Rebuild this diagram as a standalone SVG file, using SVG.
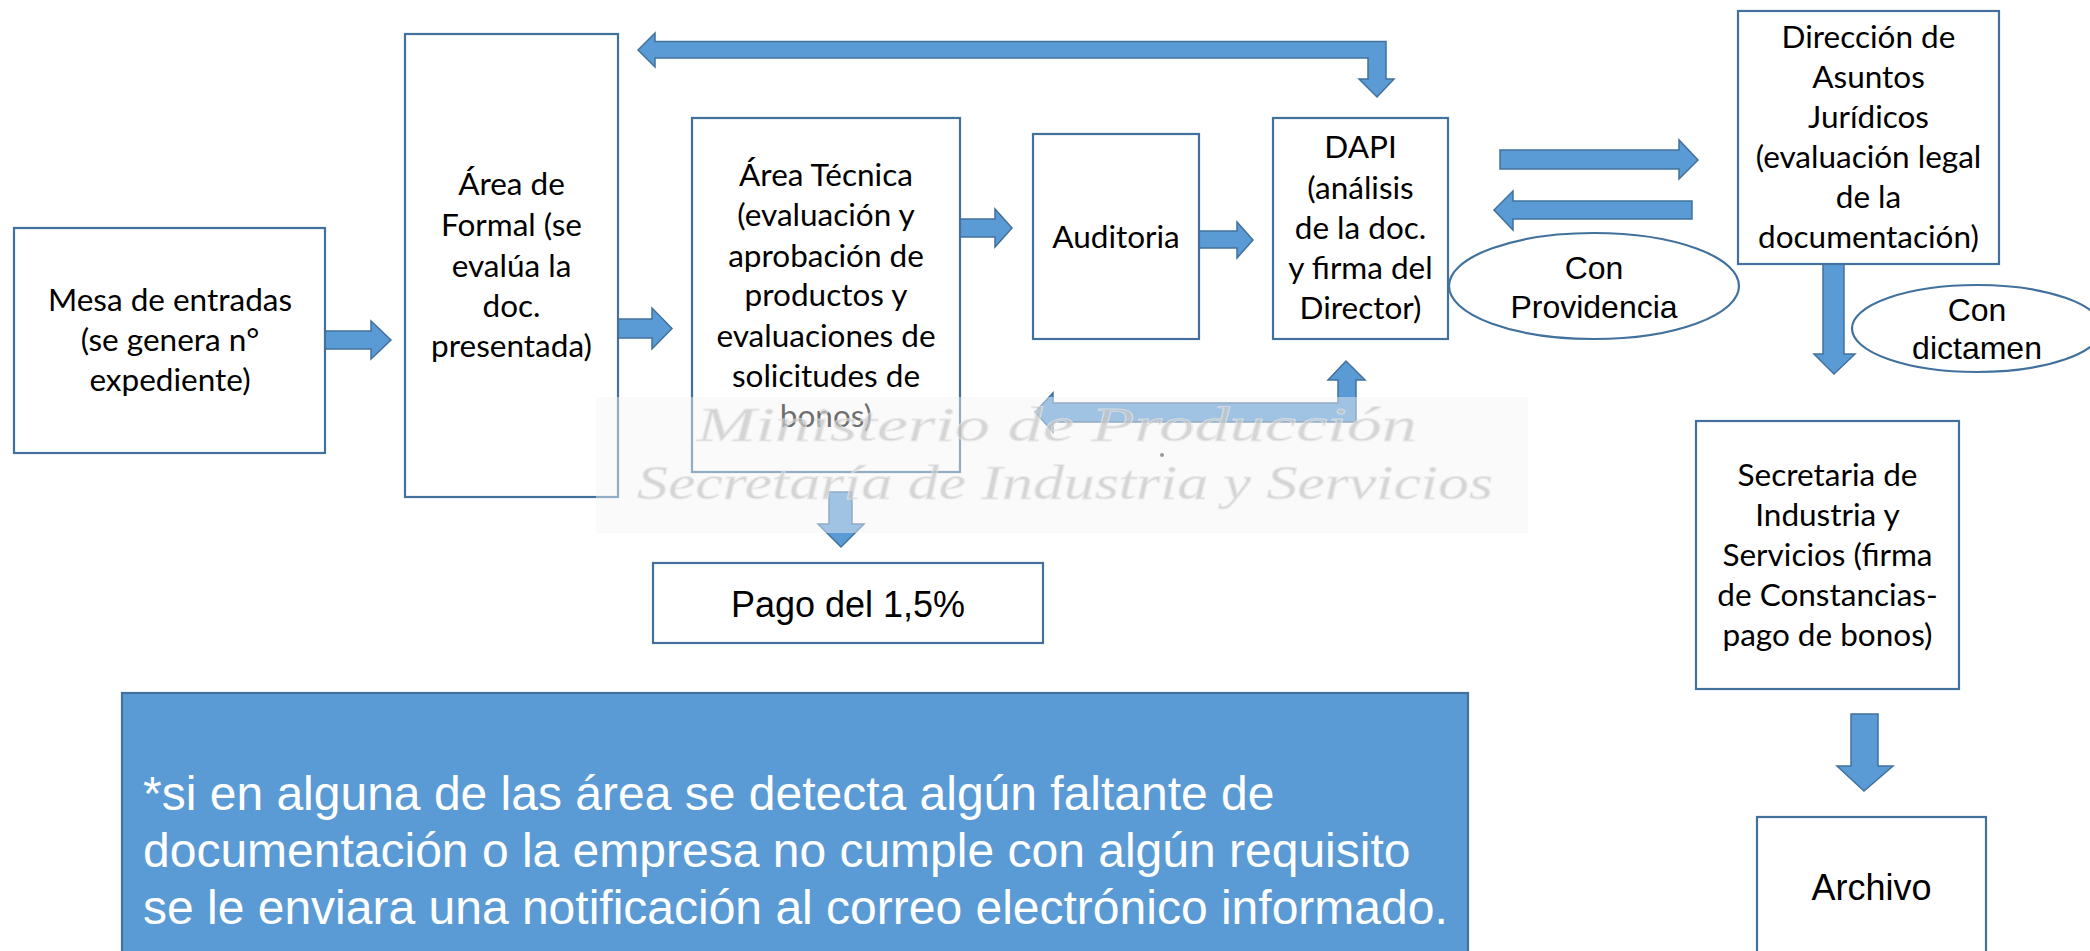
<svg xmlns="http://www.w3.org/2000/svg" width="2090" height="951" viewBox="0 0 2090 951">
<style>
.box{fill:#ffffff;stroke:#41719C;stroke-width:2.2}
.ell{fill:#ffffff;stroke:#41719C;stroke-width:2.2}
.arr{fill:#5B9BD5;stroke:#41719C;stroke-width:1.5;stroke-linejoin:miter}
.t{font-family:Lato,'Liberation Sans',sans-serif;font-size:31.5px;fill:#000;text-anchor:middle}
.a{font-family:'Liberation Sans',Arial,sans-serif;fill:#000;text-anchor:middle}
.note{font-family:'Liberation Sans',Arial,sans-serif;font-size:48px;fill:#fff}
.wm{font-family:'Liberation Serif','DejaVu Serif',serif;font-style:italic;font-size:48px;fill:#c6c6c6;stroke:#e4e4e4;stroke-width:1}
</style>
<rect width="2090" height="951" fill="#ffffff"/>

<g id="connectors">
  <!-- Mesa -> Formal -->
  <polygon class="arr" points="325,331 371,331 371,321 391,340 371,359 371,349 325,349"/>
  <!-- Formal -> Tecnica -->
  <polygon class="arr" points="618,319 652,319 652,308 672,328.5 652,349 652,338 618,338"/>
  <!-- Tecnica -> Auditoria -->
  <polygon class="arr" points="960,219 995,219 995,209 1012,228 995,247 995,237 960,237"/>
  <!-- Auditoria -> DAPI -->
  <polygon class="arr" points="1199,231 1237,231 1237,222 1253,240 1237,258 1237,248 1199,248"/>
  <!-- DAPI -> Formal (top, bent) -->
  <polygon class="arr" points="638,50 655,33 655,41.5 1386,41.5 1386,79 1394,79 1377,97 1359,79 1368,79 1368,58 655,58 655,67"/>
  <!-- DAPI -> Tecnica (bottom, bent) -->
  <polygon class="arr" points="1035,412 1053,393 1053,403 1338,403 1338,380 1328,380 1346,361 1365,380 1356,380 1356,422 1053,422 1053,432"/>
  <!-- Tecnica -> Pago -->
  <polygon class="arr" points="829,492 852,492 852,524 864,524 841,547 818,524 829,524"/>
  <!-- DAPI -> Direccion -->
  <polygon class="arr" points="1500,150 1679,150 1679,140 1698,160 1679,179 1679,169 1500,169"/>
  <!-- Direccion -> DAPI -->
  <polygon class="arr" points="1494,210 1513,191 1513,201 1692,201 1692,219 1513,219 1513,230"/>
  <!-- Direccion -> Secretaria -->
  <polygon class="arr" points="1823,264 1844,264 1844,354 1855,354 1834,374 1814,354 1823,354"/>
  <!-- Secretaria -> Archivo -->
  <polygon class="arr" points="1851,714 1878,714 1878,766 1893,766 1864,791 1837,766 1851,766"/>
</g>

<g id="mesa">
  <rect class="box" x="14" y="228" width="311" height="225"/>
  <text class="t" x="170" y="311">Mesa de entradas</text>
  <text class="t" x="170" y="351">(se genera n°</text>
  <text class="t" x="170" y="391">expediente)</text>
</g>

<g id="formal">
  <rect class="box" x="405" y="34" width="213" height="463"/>
  <text class="t" x="511.5" y="195">Área de</text>
  <text class="t" x="511.5" y="236">Formal (se</text>
  <text class="t" x="511.5" y="276.5">evalúa la</text>
  <text class="t" x="511.5" y="316.5">doc.</text>
  <text class="t" x="511.5" y="356.5">presentada)</text>
</g>

<g id="tecnica">
  <rect class="box" x="692" y="118" width="268" height="354"/>
  <text class="t" x="826" y="185.5">Área Técnica</text>
  <text class="t" x="826" y="226">(evaluación y</text>
  <text class="t" x="826" y="266.5">aprobación de</text>
  <text class="t" x="826" y="306">productos y</text>
  <text class="t" x="826" y="346.5">evaluaciones de</text>
  <text class="t" x="826" y="386.5">solicitudes de</text>
  <text class="t" x="826" y="427">bonos)</text>
</g>

<g id="auditoria">
  <rect class="box" x="1033" y="134" width="166" height="205"/>
  <text class="t" x="1116" y="248">Auditoria</text>
</g>

<g id="dapi">
  <rect class="box" x="1273" y="118" width="175" height="221"/>
  <text class="t" x="1360.5" y="158">DAPI</text>
  <text class="t" x="1360.5" y="198.5">(análisis</text>
  <text class="t" x="1360.5" y="239">de la doc.</text>
  <text class="t" x="1360.5" y="279">y firma del</text>
  <text class="t" x="1360.5" y="319">Director)</text>
</g>

<g id="providencia">
  <ellipse class="ell" cx="1594" cy="286" rx="145" ry="53"/>
  <text class="a" x="1594" y="279" font-size="32">Con</text>
  <text class="a" x="1594" y="318" font-size="32">Providencia</text>
</g>

<g id="direccion">
  <rect class="box" x="1738" y="11" width="261" height="253"/>
  <text class="t" x="1868.5" y="48">Dirección de</text>
  <text class="t" x="1868.5" y="88">Asuntos</text>
  <text class="t" x="1868.5" y="128">Jurídicos</text>
  <text class="t" x="1868.5" y="168">(evaluación legal</text>
  <text class="t" x="1868.5" y="208">de la</text>
  <text class="t" x="1868.5" y="248">documentación)</text>
</g>

<g id="dictamen">
  <ellipse class="ell" cx="1977" cy="328.5" rx="125" ry="43.5"/>
  <text class="a" x="1977" y="321" font-size="32">Con</text>
  <text class="a" x="1977" y="359" font-size="32">dictamen</text>
</g>

<g id="pago">
  <rect class="box" x="653" y="563" width="390" height="80"/>
  <text class="a" x="848" y="617" font-size="36">Pago del 1,5%</text>
</g>

<g id="secretaria">
  <rect class="box" x="1696" y="421" width="263" height="268"/>
  <text class="t" x="1827.5" y="486">Secretaria de</text>
  <text class="t" x="1827.5" y="526">Industria y</text>
  <text class="t" x="1827.5" y="566">Servicios (firma</text>
  <text class="t" x="1827.5" y="606">de Constancias-</text>
  <text class="t" x="1827.5" y="646">pago de bonos)</text>
</g>

<g id="archivo">
  <rect class="box" x="1757" y="817" width="229" height="160"/>
  <text class="a" x="1871.5" y="900" font-size="36">Archivo</text>
</g>

<g id="nota">
  <rect x="122" y="693" width="1346" height="290" fill="#5B9BD5" stroke="#41719C" stroke-width="2.2"/>
  <text class="note" x="143" y="810">*si en alguna de las área se detecta algún faltante de</text>
  <text class="note" x="143" y="867">documentación o la empresa no cumple con algún requisito</text>
  <text class="note" x="143" y="924">se le enviara una notificación al correo electrónico informado.</text>
</g>

<g id="watermark">
  <rect x="596" y="397" width="932" height="136" fill="#f4f4f4" opacity="0.45"/>
  <text class="wm" x="697" y="441" textLength="720" lengthAdjust="spacingAndGlyphs" opacity="0.7">Ministerio de Producción</text>
  <text class="wm" x="637" y="499" textLength="856" lengthAdjust="spacingAndGlyphs" opacity="0.7">Secretaría de Industria y Servicios</text>
  <circle cx="1162" cy="455" r="2" fill="#999"/>
</g>
</svg>
